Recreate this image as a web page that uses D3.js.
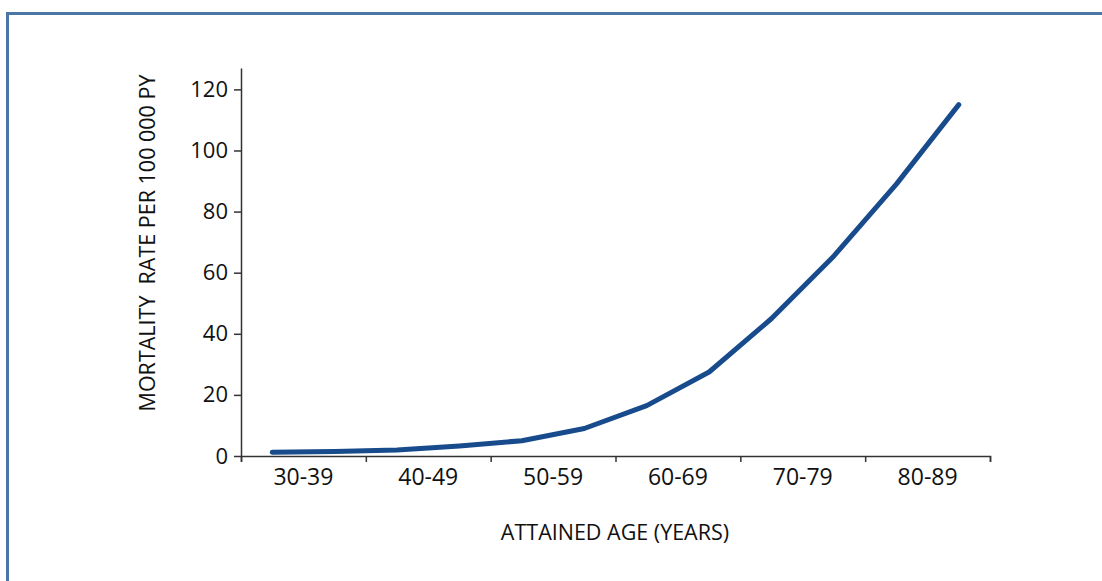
<!DOCTYPE html>
<html>
<head>
<meta charset="utf-8">
<script src="https://cdn.jsdelivr.net/npm/d3@7"></script>
<style>
  body { margin: 0; background: #fff; }
  .axis text { font-family: "Open Sans", sans-serif; font-size: 22px; fill: #111; }
  .x.axis text { font-size: 23px; }
  .axis path, .axis line { stroke: #333; stroke-width: 1.5; }
  .title { font-family: "Open Sans", sans-serif; font-size: 21.5px; fill: #111; }
</style>
</head>
<body>
<div id="chart"></div>
<script>
let width = 1102, height = 581;

let margin = ({top: 68, right: 112, bottom: 125, left: 241});

// age groups on the x axis
let ageGroups = ["30-39", "40-49", "50-59", "60-69", "70-79", "80-89"];
let ageTicks = [30, 40, 50, 60, 70, 80, 90];

// rate read at every 5 years of attained age
let ages = [32.5, 37.5, 42.5, 47.5, 52.5, 57.5, 62.5, 67.5, 72.5, 77.5, 82.5, 87.5];
let rates = [1.2, 1.5, 2, 3.3, 5, 9, 16.5, 27.5, 45, 65.5, 89, 115];

let yTicks = [0, 20, 40, 60, 80, 100, 120];

let svg = d3.select("#chart")
    .append("svg")
    .attr("width", width)
    .attr("height", height);

// frame
svg.append("path")
    .attr("d", `M7.5,${height} V13.5 H${width}`)
    .attr("fill", "none")
    .attr("stroke", "#4a77a6")
    .attr("stroke-width", 3);

let xAge = d3.scaleLinear()
    .domain([30, 90])
    .range([margin.left, width - margin.right]);

let xBand = d3.scaleBand()
    .domain(ageGroups)
    .range([margin.left, width - margin.right]);

let yScale = d3.scaleLinear()
    .domain([0, 127])
    .range([height - margin.bottom, margin.top]);

// x axis: tick marks at group edges
svg.append("g")
    .attr("class", "x axis")
    .attr("transform", `translate(0,${height - margin.bottom})`)
    .call(d3.axisBottom(xAge)
        .tickValues(ageTicks)
        .tickSizeInner(6)
        .tickSizeOuter(6)
        .tickFormat(""));

// x axis labels centred in each group
let gLabels = svg.append("g")
    .attr("class", "x axis")
    .attr("transform", `translate(0,${height - margin.bottom})`)
    .call(d3.axisBottom(xBand)
        .tickSize(0)
        .tickPadding(13));
gLabels.select(".domain").remove();

svg.append("g")
    .attr("class", "y axis")
    .attr("transform", `translate(${margin.left},0)`)
    .call(d3.axisLeft(yScale)
        .tickValues(yTicks)
        .tickSizeInner(7)
        .tickSizeOuter(0)
        .tickPadding(6));

let line = d3.line()
    .x(function(d, i) { return xAge(ages[i]); })
    .y(function(d) { return yScale(d); });

svg.append("path")
    .datum(rates)
    .attr("d", line)
    .attr("fill", "none")
    .attr("stroke", "#174b8c")
    .attr("stroke-width", 5)
    .attr("stroke-linecap", "round")
    .attr("stroke-linejoin", "round");

svg.append("text")
    .attr("class", "title")
    .attr("text-anchor", "middle")
    .attr("x", 615)
    .attr("y", 540)
    .text("ATTAINED AGE (YEARS)");

svg.append("text")
    .attr("class", "title")
    .attr("text-anchor", "middle")
    .attr("transform", "translate(155,243) rotate(-90)")
    .attr("xml:space", "preserve")
    .style("white-space", "pre")
    .text("MORTALITY  RATE PER 100 000 PY");
</script>
</body>
</html>
